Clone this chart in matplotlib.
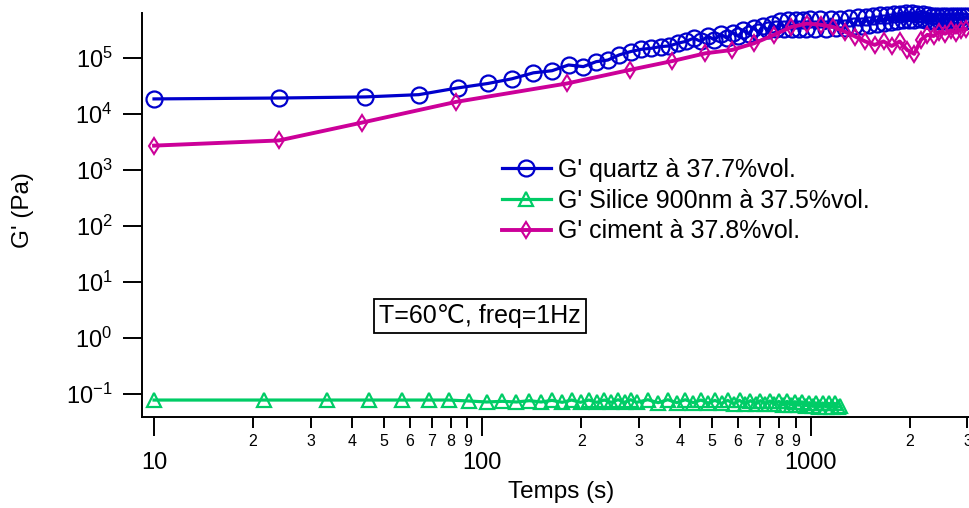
import matplotlib
matplotlib.use("Agg")
import matplotlib.pyplot as plt
from matplotlib.ticker import LogLocator, FuncFormatter, NullLocator
import numpy as np

plt.rcParams['font.family'] = ['Liberation Sans', 'DejaVu Sans']
plt.rcParams['mathtext.fontset'] = 'custom'
plt.rcParams['mathtext.rm'] = 'Liberation Sans'
plt.rcParams['mathtext.it'] = 'Liberation Sans:italic'
plt.rcParams['mathtext.bf'] = 'Liberation Sans:bold'
plt.rcParams['axes.unicode_minus'] = False

# ---------------- data ----------------
quartz_t = [10, 24, 44, 64, 84, 104, 123, 143, 163, 183, 203, 222, 241, 261, 283, 305,
            327, 349, 371, 393, 416, 440, 463, 486, 509, 532, 555, 578, 601, 624, 647,
            670, 693, 716, 739, 762, 785, 808, 831, 854, 877, 900, 923, 946, 969, 992,
            1030, 1070, 1110, 1150, 1190, 1230, 1270, 1310, 1350, 1390, 1430, 1470,
            1510, 1550, 1590, 1630, 1670, 1710, 1750, 1790, 1830, 1870, 1910, 1950,
            1990, 2030, 2070, 2110, 2150, 2190, 2230, 2270, 2310, 2350, 2390, 2430,
            2470, 2510, 2550, 2590, 2630, 2670, 2710, 2750, 2790, 2830, 2870, 2910,
            2950, 2990]
quartz_G = [1.88e4, 1.95e4, 2.04e4, 2.24e4, 2.95e4, 3.55e4, 4.3e4, 5.5e4, 6.0e4, 7.6e4,
            7.1e4, 8.7e4, 9.3e4, 1.15e5, 1.32e5, 1.45e5, 1.51e5, 1.62e5, 1.66e5, 1.86e5,
            2.0e5, 2.29e5, 2.0e5, 2.5e5, 2.14e5, 2.7e5, 2.29e5, 2.88e5, 2.5e5, 3.16e5,
            2.75e5, 3.47e5, 2.95e5, 3.8e5, 3.16e5, 4.17e5, 3.3e5, 4.57e5, 3.4e5, 4.8e5,
            3.3e5, 4.8e5, 3.3e5, 4.9e5, 3.4e5, 5.0e5,
            3.31e5, 5.01e5, 3.39e5, 5.01e5, 3.47e5, 5.13e5, 3.55e5, 5.25e5, 3.72e5, 5.5e5,
            3.8e5, 5.5e5, 3.98e5, 5.75e5, 4.17e5, 5.89e5, 4.27e5, 6.03e5, 4.47e5, 6.17e5,
            4.57e5, 6.31e5, 4.79e5, 6.46e5, 4.9e5, 6.46e5, 4.9e5, 6.31e5, 5.01e5, 6.17e5,
            4.79e5, 6.03e5, 4.68e5, 5.75e5, 4.57e5, 5.62e5, 4.57e5, 5.62e5, 4.57e5, 5.62e5,
            4.57e5, 5.75e5, 4.57e5, 5.75e5, 4.68e5, 5.75e5, 4.68e5, 5.75e5, 4.68e5, 5.75e5]

silice_t = [10, 21.7, 33.6, 45.2, 56.9, 68.7, 79, 91, 103, 115, 127, 139, 151, 163, 175,
            187, 199, 211, 223, 235, 247, 259, 271, 283, 295,
            319, 343, 367, 391, 415, 439, 463, 487, 511, 535, 559, 583, 607, 631, 655,
            679, 703, 727, 751, 775, 799, 823, 847, 871, 895, 919, 943, 967, 991, 1015,
            1039, 1063, 1087, 1111, 1135, 1159, 1183, 1207, 1231]
silice_G = [0.078, 0.078, 0.078, 0.078, 0.078, 0.078, 0.078, 0.075, 0.072, 0.074, 0.072,
            0.076, 0.072, 0.077, 0.071, 0.078, 0.071, 0.078, 0.071, 0.078, 0.071, 0.079,
            0.071, 0.079, 0.071,
            0.079, 0.070, 0.079, 0.070, 0.079, 0.070, 0.078, 0.069, 0.077, 0.068,
            0.077, 0.067, 0.077, 0.066, 0.076, 0.066, 0.076, 0.066, 0.075, 0.065,
            0.074, 0.064, 0.074, 0.064, 0.073, 0.063, 0.072, 0.062, 0.070, 0.060,
            0.069, 0.059, 0.069, 0.059, 0.068, 0.058, 0.068, 0.058, 0.060]

ciment_t = [10, 24, 43, 83, 181, 281, 378, 478, 576, 673, 774, 873, 972, 1072, 1170,
            1268, 1366, 1466, 1566, 1666, 1766, 1866, 1966, 2066, 2166, 2266, 2366,
            2466, 2566, 2666, 2766, 2866, 2966]
ciment_G = [2.75e3, 3.4e3, 7.1e3, 1.66e4, 3.55e4, 6.2e4, 8.9e4, 1.23e5, 1.41e5, 1.86e5,
            2.63e5, 3.63e5, 4.17e5, 3.98e5, 3.63e5, 3.0e5, 2.45e5, 2.0e5, 1.74e5, 2.0e5,
            1.66e5, 2.0e5, 1.41e5, 1.2e5, 2.14e5, 2.63e5, 2.5e5, 3.0e5, 2.75e5, 3.16e5,
            2.88e5, 3.24e5, 3.31e5]

labels = ["G' quartz à 37.7%vol.", "G' Silice 900nm à 37.5%vol.", "G' ciment à 37.8%vol."]
colors = ["#0000CC", "#00CC66", "#CC0099"]
annotation = "T=60℃, freq=1Hz"
xlabel = "Temps (s)"
ylabel = "G' (Pa)"

# ---------------- figure ----------------
W, H = 969, 508
fig = plt.figure(figsize=(W / 100, H / 100), dpi=100)
ax_left, ax_right, ax_top, ax_bot = 141.7, 969.0, 12.7, 417.0
ax = fig.add_axes([ax_left / W, 1 - ax_bot / H, (ax_right - ax_left) / W, (ax_bot - ax_top) / H])

l1, = ax.plot(quartz_t, quartz_G, color=colors[0], lw=2.3, marker='o', ms=11.5,
              mfc='none', mec=colors[0], mew=1.6, clip_on=False, zorder=3)
l2, = ax.plot(silice_t, silice_G, color=colors[1], lw=2.3, marker='^', ms=10,
              mfc='none', mec=colors[1], mew=1.6, clip_on=False, zorder=3)
l3, = ax.plot(ciment_t, ciment_G, color=colors[2], lw=2.8, marker='d', ms=7.8,
              mfc='none', mec=colors[2], mew=1.5, clip_on=False, zorder=4)

ax.set_xscale('log')
ax.set_yscale('log')
ax.set_xlim(10 ** 0.9625, 10 ** 3.482)
ax.set_ylim(10 ** -1.411, 10 ** 5.815)

for s in ['top', 'right']:
    ax.spines[s].set_visible(False)
for s in ['left', 'bottom']:
    ax.spines[s].set_linewidth(1.4)

# x ticks
ax.xaxis.set_major_locator(LogLocator(base=10, numticks=10))
ax.xaxis.set_minor_locator(LogLocator(base=10, subs=np.arange(2, 10), numticks=20))


def minor_fmt(x, pos):
    e = np.floor(np.log10(x) + 1e-9)
    d = int(round(x / 10 ** e))
    return str(d)


ax.xaxis.set_major_formatter(FuncFormatter(lambda x, p: "%d" % round(x)))
ax.xaxis.set_minor_formatter(FuncFormatter(minor_fmt))
ax.tick_params(axis='x', which='major', direction='out', length=13.7, width=1.4,
               labelsize=17, pad=11.5)
ax.tick_params(axis='x', which='minor', direction='out', length=8, width=1.4,
               labelsize=11.5, pad=4.5)

# y ticks
ax.yaxis.set_major_locator(LogLocator(base=10, numticks=20))
ax.yaxis.set_minor_locator(NullLocator())
ax.tick_params(axis='y', which='major', direction='out', length=14, width=1.4,
               labelsize=17, pad=7)

ax.set_xlabel(xlabel, fontsize=17.5)
ax.xaxis.label.set_va('center')
ax.xaxis.set_label_coords((561 - ax_left) / (ax_right - ax_left), (ax_bot - 492) / (ax_bot - ax_top))
ax.set_ylabel(ylabel, fontsize=17.5)
ax.yaxis.label.set_va('center')
ax.yaxis.set_label_coords((23 - ax_left) / (ax_right - ax_left), (ax_bot - 210) / (ax_bot - ax_top))

leg = fig.legend([l1, l2, l3], labels, loc='upper left',
                 bbox_to_anchor=(502 / W, 1 - 158 / H), bbox_transform=fig.transFigure,
                 frameon=False, fontsize=18, numpoints=1, handlelength=1.95,
                 handletextpad=0.28, labelspacing=0.27, borderpad=0, borderaxespad=0)

fig.text(480 / W, 1 - 316 / H, annotation, fontsize=18, ha='center', va='center',
         bbox=dict(boxstyle='square,pad=0.2', fc='white', ec='black', lw=1.3))

fig.savefig("out.png", dpi=100)
